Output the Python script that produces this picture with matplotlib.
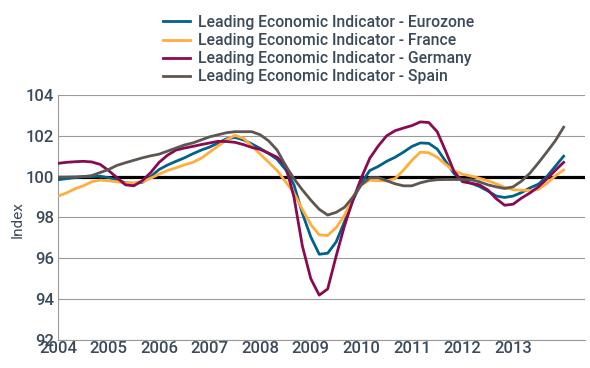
import numpy as np
import matplotlib
matplotlib.use("Agg")
import matplotlib.pyplot as plt

# bi-monthly observations, Jan 2004 .. Jan 2014
months = list(range(0, 121, 2))

eurozone = [99.85, 99.9, 99.95, 100.0, 100.0, 100.02, 99.95, 99.83, 99.7, 99.67,
            99.72, 100.0, 100.35, 100.57, 100.75, 100.92, 101.12, 101.3, 101.45, 101.65,
            101.85, 101.92, 101.8, 101.6, 101.38, 101.13, 100.85, 100.35, 99.6, 98.2,
            97.05, 96.2, 96.25, 96.8, 97.8, 98.85, 99.7, 100.3, 100.5, 100.75,
            100.95, 101.2, 101.48, 101.65, 101.63, 101.35, 100.75, 100.15, 99.8, 99.68,
            99.52, 99.3, 99.05, 98.98, 99.05, 99.22, 99.45, 99.63, 100.0, 100.5, 101.0]

france = [99.05, 99.2, 99.4, 99.55, 99.75, 99.83, 99.8, 99.75, 99.68, 99.7,
          99.75, 99.92, 100.12, 100.3, 100.43, 100.58, 100.7, 100.9, 101.2, 101.5,
          101.8, 102.02, 101.88, 101.5, 101.1, 100.7, 100.3, 99.75, 99.2, 98.4,
          97.65, 97.15, 97.12, 97.5, 98.1, 99.0, 99.6, 99.83, 99.8, 99.8,
          99.9, 100.32, 100.8, 101.2, 101.17, 100.95, 100.6, 100.28, 100.12, 100.03,
          99.92, 99.8, 99.65, 99.48, 99.36, 99.34, 99.32, 99.38, 99.67, 100.03, 100.33]

germany = [100.65, 100.7, 100.73, 100.75, 100.72, 100.6, 100.3, 99.95, 99.6, 99.55,
           99.8, 100.2, 100.7, 101.05, 101.3, 101.4, 101.48, 101.57, 101.65, 101.73,
           101.72, 101.68, 101.57, 101.43, 101.33, 101.15, 100.95, 100.55, 99.0, 96.6,
           95.0, 94.2, 94.5, 96.1, 97.6, 98.85, 99.95, 100.9, 101.5, 102.0,
           102.25, 102.38, 102.5, 102.68, 102.65, 102.2, 101.25, 100.25, 99.75, 99.68,
           99.6, 99.35, 98.92, 98.6, 98.65, 98.95, 99.2, 99.5, 99.88, 100.3, 100.7]

spain = [99.98, 99.98, 99.99, 100.0, 100.05, 100.2, 100.35, 100.55, 100.68, 100.8,
         100.92, 101.02, 101.1, 101.25, 101.4, 101.55, 101.65, 101.8, 101.95, 102.05,
         102.15, 102.2, 102.2, 102.2, 102.05, 101.75, 101.3, 100.55, 99.9, 99.35,
         98.85, 98.4, 98.12, 98.25, 98.5, 99.0, 99.6, 99.95, 99.95, 99.8,
         99.65, 99.55, 99.55, 99.7, 99.8, 99.85, 99.86, 99.86, 99.86, 99.85,
         99.75, 99.6, 99.5, 99.42, 99.5, 99.78, 100.17, 100.67, 101.2, 101.75, 102.42]

series_names = ["Leading Economic Indicator - Eurozone",
                "Leading Economic Indicator - France",
                "Leading Economic Indicator - Germany",
                "Leading Economic Indicator - Spain"]
colors = ["#00618a", "#ffae3d", "#8a0a52", "#5e5650"]

year_ticks = list(range(2004, 2014))
y_ticks = [92, 94, 96, 98, 100, 102, 104]

text_color = "#3b4a5a"
plt.rcParams['font.family'] = ['Roboto', 'DejaVu Sans']
plt.rcParams['font.weight'] = 'medium'

fig = plt.figure(figsize=(5.9, 3.68), dpi=100)
ax = fig.add_axes([0.0983, 0.076, 0.893, 0.666])

t = 2004 + np.array(months) / 12.0
handles = []
for vals, name, c in zip([eurozone, france, germany, spain], series_names, colors):
    h, = ax.plot(t, vals, color=c, lw=2.0, label=name, zorder=3,
                 solid_joinstyle='round')
    handles.append(h)

ax.axhline(100, color="black", lw=2.3, zorder=2)

ax.set_xlim(2004, 2014.42)
ax.set_ylim(92, 104)
ax.set_yticks(y_ticks)
ax.set_xticks(year_ticks)
ax.set_xticklabels([str(y) for y in year_ticks])
ax.grid(axis='y', color="#9a9a9a", lw=0.8, zorder=1)
ax.tick_params(length=0, labelsize=12, colors=text_color, pad=3)
ax.tick_params(axis='x', pad=1)
for s in ["top", "right"]:
    ax.spines[s].set_visible(False)
ax.spines["left"].set_color("#9a9a9a")
ax.spines["bottom"].set_color("#9a9a9a")
ax.spines["left"].set_linewidth(0.8)
ax.spines["bottom"].set_linewidth(0.8)
ax.set_ylabel("Index", fontsize=11, color=text_color)
ax.yaxis.set_label_coords(-0.064, 0.49)

fig.legend(handles=handles, loc="upper center", bbox_to_anchor=(0.54, 1.0),
           frameon=False, fontsize=11.3, labelcolor=text_color, handlelength=1.7,
           handletextpad=0.5, labelspacing=0.2, borderpad=0.45)

fig.savefig("out.png", dpi=100)
